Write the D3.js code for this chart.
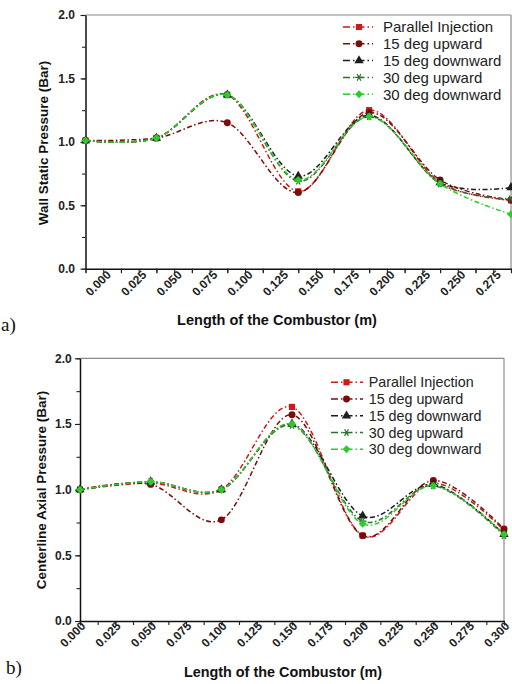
<!DOCTYPE html>
<html>
<head>
<meta charset="utf-8">
<script src="https://cdn.jsdelivr.net/npm/d3@7"></script>
<style>
body { margin: 0; background: #fff; }
svg { display: block; font-family: "Liberation Sans", Arial, sans-serif; }
</style>
</head>
<body>
<svg id="fig" width="512" height="684"></svg>
<script>
// data
var xs = [0, 0.05, 0.10, 0.15, 0.20, 0.25, 0.30];
var seriesNames = ["Parallel Injection", "15 deg upward", "15 deg downward", "30 deg upward", "30 deg downward"];

// a) wall static pressure (bar)
var wallParallel = [1.01, 1.03, 1.37, 0.61, 1.25, 0.68, 0.54];
var wallUp15     = [1.01, 1.03, 1.15, 0.60, 1.23, 0.70, 0.54];
var wallDown15   = [1.01, 1.03, 1.37, 0.73, 1.21, 0.68, 0.64];
var wallUp30     = [1.01, 1.03, 1.37, 0.69, 1.20, 0.67, 0.55];
var wallDown30   = [1.01, 1.03, 1.37, 0.70, 1.20, 0.67, 0.43];

// b) centerline axial pressure (bar)
var axParallel = [1.00, 1.05, 1.00, 1.63, 0.65, 1.05, 0.69];
var axUp15     = [1.00, 1.04, 0.77, 1.57, 0.65, 1.07, 0.70];
var axDown15   = [1.00, 1.06, 1.00, 1.50, 0.80, 1.04, 0.66];
var axUp30     = [1.00, 1.06, 1.00, 1.49, 0.76, 1.03, 0.65];
var axDown30   = [1.00, 1.06, 1.00, 1.50, 0.74, 1.03, 0.66];

var xTickVals = [0, 0.025, 0.05, 0.075, 0.1, 0.125, 0.15, 0.175, 0.2, 0.225, 0.25, 0.275, 0.3];
var yTickVals = [0, 0.5, 1.0, 1.5, 2.0];

var colors = ["#d01818", "#7a0c0c", "#1e1e1e", "#2f6f2f", "#2ccc2c"];
var markers = ["square", "circle", "triangle", "star", "diamond"];

var svg = d3.select("#fig");
svg.append("rect").attr("width", 512).attr("height", 684).attr("fill", "#fff");

function marker(sel, kind, color) {
    if (kind == "star") {
        sel.append("path").attr("d", d3.symbol(d3.symbolAsterisk, 42)())
            .attr("transform", "rotate(90)")
            .attr("fill", "none").attr("stroke", color).attr("stroke-width", 1.2);
    } else if (kind == "diamond") {
        sel.append("path").attr("d", d3.symbol(d3.symbolSquare, 32)())
            .attr("transform", "rotate(45)").attr("fill", color);
    } else {
        var t = { square: d3.symbolSquare, circle: d3.symbolCircle, triangle: d3.symbolTriangle }[kind];
        sel.append("path").attr("d", d3.symbol(t, 38)()).attr("fill", color);
    }
}

function drawPanel(cfg) {
    var g = svg.append("g");
    var x = d3.scaleLinear().domain([0, 0.3]).range([cfg.left, cfg.right]);
    var y = d3.scaleLinear().domain([0, 2]).range([cfg.bottom, cfg.top]);

    // grey top/right frame
    g.append("line").attr("x1", cfg.left).attr("x2", cfg.right).attr("y1", cfg.top).attr("y2", cfg.top)
        .attr("stroke", "#8a8a8a").attr("stroke-width", 1.2);
    g.append("line").attr("x1", cfg.right).attr("x2", cfg.right).attr("y1", cfg.top).attr("y2", cfg.bottom)
        .attr("stroke", "#8a8a8a").attr("stroke-width", 1.2);

    // minor ticks
    var xMinor = d3.range(0, 25).map((i) => i * 0.0125);
    var yMinor = d3.range(0, 9).map((i) => i * 0.25);
    g.append("g").attr("transform", "translate(0," + cfg.bottom + ")")
        .call(d3.axisBottom(x).tickValues(xMinor).tickSize(4).tickSizeOuter(0).tickFormat(""))
        .call((a) => a.select(".domain").remove());
    g.append("g").attr("transform", "translate(" + cfg.left + ",0)")
        .call(d3.axisLeft(y).tickValues(yMinor).tickSize(3.5).tickSizeOuter(0).tickFormat(""))
        .call((a) => a.select(".domain").remove());

    var xa = g.append("g").attr("transform", "translate(0," + cfg.bottom + ")")
        .call(d3.axisBottom(x).tickValues(xTickVals).tickSize(4.5).tickSizeOuter(0).tickFormat(""));
    var ya = g.append("g").attr("transform", "translate(" + cfg.left + ",0)")
        .call(d3.axisLeft(y).tickValues(yTickVals).tickSize(5).tickSizeOuter(0)
            .tickPadding(cfg.yPad).tickFormat(d3.format(".1f")));
    g.selectAll(".tick line").attr("stroke", "#222").attr("stroke-width", 1.1);
    xa.select(".domain").attr("stroke", "#111").attr("stroke-width", 1.5);
    ya.select(".domain").attr("stroke", "#111").attr("stroke-width", 1.5);
    ya.selectAll("text").attr("font-size", 12).attr("font-weight", "bold")
        .attr("font-family", "Liberation Sans, Arial, sans-serif").attr("fill", "#222");

    // rotated x labels
    g.selectAll("text.xl").data(xTickVals.filter((d) => d <= cfg.lastLabel + 1e-9)).enter()
        .append("text").attr("class", "xl")
        .attr("transform", (d) => "translate(" + (x(d) + cfg.xlDx) + "," + (cfg.bottom + cfg.xlDy) + ") rotate(-45)")
        .attr("font-size", 12).attr("font-weight", "bold").attr("fill", "#222")
        .text((d) => d3.format(".3f")(d));

    // axis titles
    g.append("text").attr("x", cfg.xTitleX).attr("y", cfg.xTitleY).attr("text-anchor", "middle")
        .attr("font-size", cfg.xTitleSize).attr("font-weight", "bold").attr("fill", "#111")
        .text("Length of the Combustor (m)");
    g.append("text").attr("transform", "translate(" + cfg.yTitleX + "," + cfg.yTitleY + ") rotate(-90)")
        .attr("text-anchor", "middle").attr("font-size", 13.5).attr("font-weight", "bold").attr("fill", "#111")
        .text(cfg.yTitle);

    // series (Origin-like spline)
    var line = d3.line().x((d, i) => x(xs[i])).y((d) => y(d)).curve(d3.curveCardinal.tension(0));
    cfg.series.forEach((vals, k) => {
        g.append("path").attr("d", line(vals)).attr("fill", "none")
            .attr("stroke", colors[k]).attr("stroke-width", 1.5)
            .attr("stroke-dasharray", "5,2.5,1.5,2.5");
    });
    cfg.series.forEach((vals, k) => {
        g.selectAll(null).data(vals).enter().append("g")
            .attr("transform", (d, i) => "translate(" + x(xs[i]) + "," + y(d) + ")")
            .each(function() { marker(d3.select(this), markers[k], colors[k]); });
    });

    // legend
    var lg = g.append("g");
    seriesNames.forEach((name, k) => {
        var cy = cfg.legY + k * cfg.legStep;
        lg.append("line").attr("x1", cfg.legX).attr("x2", cfg.legX + cfg.legLen).attr("y1", cy).attr("y2", cy)
            .attr("stroke", colors[k]).attr("stroke-width", 1.5).attr("stroke-dasharray", "7,3,1.5,3");
        marker(lg.append("g").attr("transform", "translate(" + (cfg.legX + cfg.legMark) + "," + cy + ")"), markers[k], colors[k]);
        lg.append("text").attr("x", cfg.legTextX).attr("y", cy + cfg.legSize * 0.36)
            .attr("font-size", cfg.legSize).attr("fill", "#222").text(name);
    });

    svg.append("text").attr("x", cfg.tagX).attr("y", cfg.tagY)
        .attr("font-family", "Liberation Serif, Times New Roman, serif").attr("font-size", 19)
        .attr("fill", "#111").text(cfg.tag);
}

drawPanel({
    left: 85.5, right: 511, top: 15, bottom: 268.7, yPad: 5.5,
    lastLabel: 0.275, xlDx: 5, xlDy: 28,
    xTitleX: 277, xTitleY: 325, xTitleSize: 14.5,
    yTitleX: 48, yTitleY: 143, yTitle: "Wall Static Pressure (Bar)",
    series: [wallParallel, wallUp15, wallDown15, wallUp30, wallDown30],
    legX: 343, legLen: 30, legMark: 16, legTextX: 383, legY: 27, legStep: 16.8, legSize: 15,
    tag: "a)", tagX: 1, tagY: 331
});

drawPanel({
    left: 80, right: 504, top: 358.3, bottom: 621, yPad: 3.3,
    lastLabel: 0.3, xlDx: -15, xlDy: 27,
    xTitleX: 283, xTitleY: 677, xTitleSize: 14.4,
    yTitleX: 45.5, yTitleY: 490, yTitle: "Centerline Axial Pressure (Bar)",
    series: [axParallel, axUp15, axDown15, axUp30, axDown30],
    legX: 331, legLen: 32, legMark: 15.5, legTextX: 368.7, legY: 382.3, legStep: 16.75, legSize: 14.3,
    tag: "b)", tagX: 6, tagY: 674
});
</script>
</body>
</html>
